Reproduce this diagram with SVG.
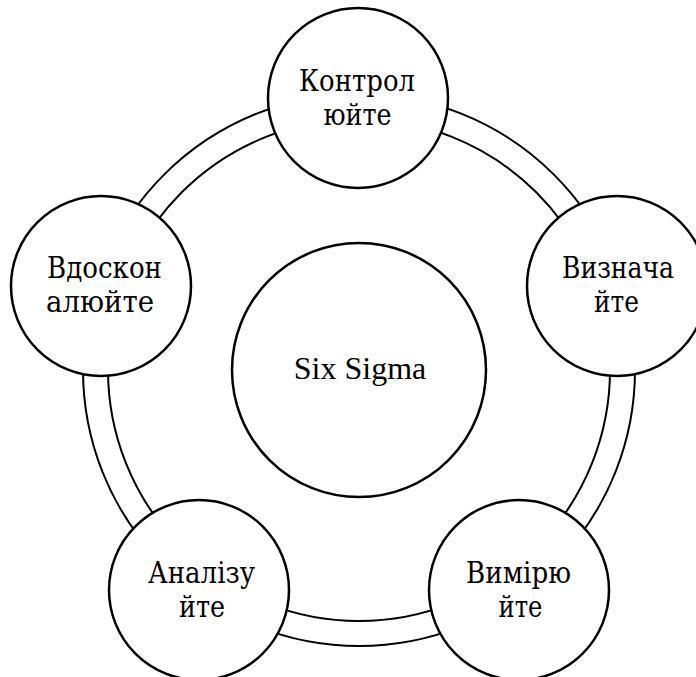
<svg xmlns="http://www.w3.org/2000/svg" width="696" height="677" viewBox="0 0 696 677">
<style>
.ring{fill:none;stroke:#000;stroke-width:2}
.node{fill:#fff;stroke:#000;stroke-width:2.5}
.lbl{font-family:"Liberation Serif","Times New Roman",serif;font-size:32px;fill:#000;text-anchor:middle}
.cy{font-family:"DejaVu Serif",serif;font-size:30px;fill:#000;text-anchor:middle}
</style>
<rect width="696" height="677" fill="#fff"/>
<g id="connectors">
<circle class="ring" cx="359" cy="370" r="276"/>
<circle class="ring" cx="359" cy="370" r="251"/>
</g>
<g id="center">
<circle class="node" cx="359" cy="370" r="127"/>
<text class="lbl" x="360" y="379">Six Sigma</text>
</g>
<g id="control">
<circle class="node" cx="358" cy="98" r="90"/>
<text class="cy" x="357" y="91" textLength="116" lengthAdjust="spacingAndGlyphs">Контрол</text>
<text class="cy" x="357.5" y="125" textLength="68" lengthAdjust="spacingAndGlyphs">юйте</text>
</g>
<g id="define">
<circle class="node" cx="617" cy="286" r="90"/>
<text class="cy" x="618" y="278" textLength="112" lengthAdjust="spacingAndGlyphs">Визнача</text>
<text class="cy" x="616.5" y="312" textLength="45" lengthAdjust="spacingAndGlyphs">йте</text>
</g>
<g id="measure">
<circle class="node" cx="519" cy="590" r="90"/>
<text class="cy" x="518.5" y="583" textLength="105" lengthAdjust="spacingAndGlyphs">Вимірю</text>
<text class="cy" x="520.5" y="617" textLength="44" lengthAdjust="spacingAndGlyphs">йте</text>
</g>
<g id="analyze">
<circle class="node" cx="199" cy="590" r="90"/>
<text class="cy" x="201.5" y="583" textLength="107" lengthAdjust="spacingAndGlyphs">Аналізу</text>
<text class="cy" x="202" y="617" textLength="46" lengthAdjust="spacingAndGlyphs">йте</text>
</g>
<g id="improve">
<circle class="node" cx="101" cy="286" r="90"/>
<text class="cy" x="104.5" y="278" textLength="115" lengthAdjust="spacingAndGlyphs">Вдоскон</text>
<text class="cy" x="100" y="312" textLength="108" lengthAdjust="spacingAndGlyphs">алюйте</text>
</g>
</svg>
